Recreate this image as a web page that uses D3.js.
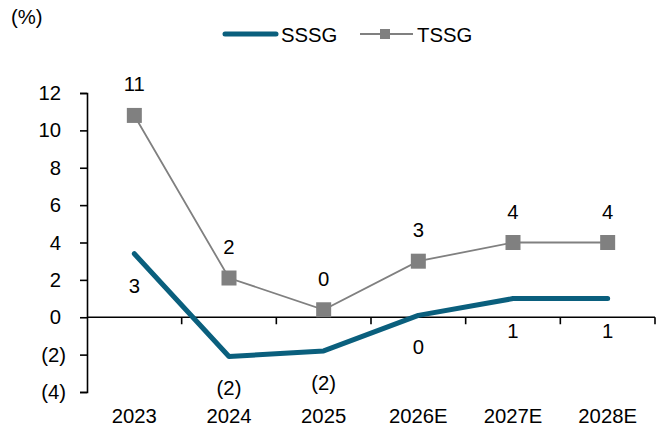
<!DOCTYPE html>
<html>
<head>
<meta charset="utf-8">
<script src="https://cdn.jsdelivr.net/npm/d3@7"></script>
<style>
  html, body { margin: 0; padding: 0; background: #fff; }
  svg { display: block; font-family: "Liberation Sans", Arial, sans-serif; }
</style>
</head>
<body>
<svg id="chart" width="664" height="430"></svg>
<script>
// Same-store and total-store sales growth, %
const years = ["2023", "2024", "2025", "2026E", "2027E", "2028E"];
const sssg = [3.4, -2.1, -1.8, 0.1, 1.0, 1.0];
const tssg = [10.8, 2.1, 0.4, 3.0, 4.0, 4.0];
const yTicks = [-4, -2, 0, 2, 4, 6, 8, 10, 12];

const teal = "#0a5f7d";
const grey = "#808080";
const fs = 20.3;

const svg = d3.select("#chart");
const plotLeft = 87, plotRight = 655, plotTop = 93, plotBottom = 392;

const x = d3.scaleBand().domain(years).range([plotLeft, plotRight]).padding(0);
const y = d3.scaleLinear().domain([-4, 12]).range([plotBottom, plotTop]);
const cx = d => x(d) + x.bandwidth() / 2;

const fmt = v => {
  const r = Math.round(v);
  return r < 0 ? `(${Math.abs(r)})` : `${r}`;
};

// Y axis; positive labels leave room for a closing paren so digits line up
const yAxis = d3.axisLeft(y).tickValues(yTicks).tickSize(7).tickFormat(fmt);
const gy = svg.append("g").attr("transform", `translate(${plotLeft},0)`).call(yAxis);
gy.select(".domain").attr("stroke", "#000").attr("stroke-width", 1.6);
gy.selectAll(".tick line").attr("stroke", "#000").attr("stroke-width", 1.6);
gy.selectAll(".tick text")
  .attr("font-size", fs).attr("fill", "#000")
  .attr("font-family", "Liberation Sans, Arial, sans-serif")
  .attr("x", d => d < 0 ? -21 : -26);

// X axis along zero, ticks at category boundaries
const y0 = y(0);
svg.append("line").attr("x1", plotLeft).attr("x2", plotRight).attr("y1", y0).attr("y2", y0)
  .attr("stroke", "#000").attr("stroke-width", 1.6);
const bounds = years.map(d => x(d)).concat([plotRight]);
svg.selectAll(".xtick").data(bounds.slice(1)).join("line")
  .attr("x1", d => d).attr("x2", d => d).attr("y1", y0).attr("y2", y0 + 7)
  .attr("stroke", "#000").attr("stroke-width", 1.6);
svg.selectAll(".xlab").data(years).join("text")
  .attr("x", d => cx(d)).attr("y", 423)
  .attr("text-anchor", "middle").attr("font-size", fs).attr("fill", "#000")
  .text(d => d);

// TSSG line with square markers
const line = d3.line().x((d, i) => cx(years[i])).y(d => y(d));
svg.append("path").datum(tssg).attr("d", line)
  .attr("fill", "none").attr("stroke", grey).attr("stroke-width", 1.8);
svg.selectAll(".tm").data(tssg).join("rect")
  .attr("x", (d, i) => cx(years[i]) - 7.5).attr("y", d => y(d) - 7.5)
  .attr("width", 15).attr("height", 15).attr("fill", grey);
svg.selectAll(".tl").data(tssg).join("text")
  .attr("x", (d, i) => cx(years[i])).attr("y", d => y(d) - 24)
  .attr("text-anchor", "middle").attr("font-size", fs).attr("fill", "#000")
  .text(d => fmt(d));

// SSSG thick line
svg.append("path").datum(sssg).attr("d", line)
  .attr("fill", "none").attr("stroke", teal).attr("stroke-width", 5)
  .attr("stroke-linecap", "round").attr("stroke-linejoin", "round");
svg.selectAll(".sl").data(sssg).join("text")
  .attr("x", (d, i) => cx(years[i])).attr("y", d => y(d) + 39)
  .attr("text-anchor", "middle").attr("font-size", fs).attr("fill", "#000")
  .text(d => fmt(d));

// Unit label
svg.append("text").attr("x", 11).attr("y", 24).attr("font-size", fs).attr("fill", "#000").text("(%)");

// Legend
const lg = svg.append("g");
lg.append("line").attr("x1", 225).attr("x2", 276).attr("y1", 34).attr("y2", 34)
  .attr("stroke", teal).attr("stroke-width", 5).attr("stroke-linecap", "round");
lg.append("text").attr("x", 281).attr("y", 42).attr("font-size", fs).attr("fill", "#000").text("SSSG");
lg.append("line").attr("x1", 360).attr("x2", 413).attr("y1", 34).attr("y2", 34)
  .attr("stroke", grey).attr("stroke-width", 1.8);
lg.append("rect").attr("x", 380).attr("y", 29).attr("width", 10).attr("height", 10).attr("fill", grey);
lg.append("text").attr("x", 417).attr("y", 42).attr("font-size", fs).attr("fill", "#000").text("TSSG");
</script>
</body>
</html>
